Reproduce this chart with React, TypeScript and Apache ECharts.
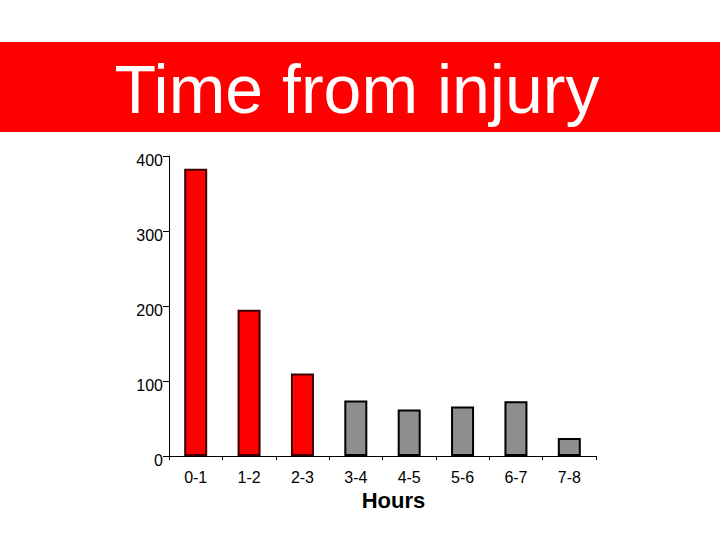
import React, { useEffect, useRef } from 'react';
import * as echarts from 'echarts';

// hours since injury
const categories = ['0-1', '1-2', '2-3', '3-4', '4-5', '5-6', '6-7', '7-8'];
const counts = [383, 195, 110, 74, 62, 66, 73, 24];
const yTicks = [0, 100, 200, 300, 400];
const earlyHours = 3; // first bars drawn red

const App: React.FC = () => {
  const chartRef = useRef<HTMLDivElement | null>(null);

  useEffect(() => {
    if (!chartRef.current) return;
    const chart = echarts.init(chartRef.current, undefined, { renderer: 'svg' });

    const option = {
      animation: false,
      backgroundColor: '#ffffff',
      grid: { left: 169, right: 124, top: 156, bottom: 84 },
      graphic: [
        { type: 'rect', left: 0, top: 42, shape: { width: 720, height: 90 }, style: { fill: '#ff0000' }, z: 0 },
        {
          type: 'text',
          x: 357,
          y: 89,
          style: {
            text: 'Time from injury',
            fill: '#ffffff',
            font: '68px "Liberation Sans", Arial, sans-serif',
            align: 'center',
            verticalAlign: 'middle',
          },
          z: 1,
        },
      ],
      xAxis: {
        type: 'category',
        data: categories,
        name: 'Hours',
        nameLocation: 'middle',
        nameGap: 32,
        nameTextStyle: {
          color: '#000',
          fontSize: 22,
          fontWeight: 'bold',
          padding: [0, 0, 0, 22],
          fontFamily: '"Liberation Sans", Arial, sans-serif',
        },
        axisLine: { lineStyle: { color: '#000', width: 1 } },
        axisTick: { show: true, length: 4, alignWithLabel: false, lineStyle: { color: '#000' } },
        axisLabel: { color: '#000', fontSize: 16, margin: 13, fontFamily: '"Liberation Sans", Arial, sans-serif' },
      },
      yAxis: {
        type: 'value',
        min: yTicks[0],
        max: yTicks[yTicks.length - 1],
        interval: 100,
        splitLine: { show: false },
        axisLine: { show: true, lineStyle: { color: '#000', width: 1 } },
        axisTick: { show: true, length: 6, lineStyle: { color: '#000' } },
        axisLabel: {
          color: '#000',
          fontSize: 16,
          margin: 6,
          verticalAlign: 'top',
          lineHeight: 8,
          fontFamily: '"Liberation Sans", Arial, sans-serif',
        },
      },
      series: [
        {
          type: 'bar',
          barWidth: 23,
          data: counts.map((v, i) => ({
            value: v,
            itemStyle: i < earlyHours
              ? { color: '#ff0000', borderColor: '#3d0000', borderWidth: 2 }
              : { color: '#8e8e8e', borderColor: '#000000', borderWidth: 2 },
          })),
        },
      ],
    };

    chart.setOption(option);
    return () => {
      chart.dispose();
    };
  }, []);

  return <div ref={chartRef} style={{ position: 'fixed', left: 0, top: 0, width: '720px', height: '540px' }} />;
};

export default App;
